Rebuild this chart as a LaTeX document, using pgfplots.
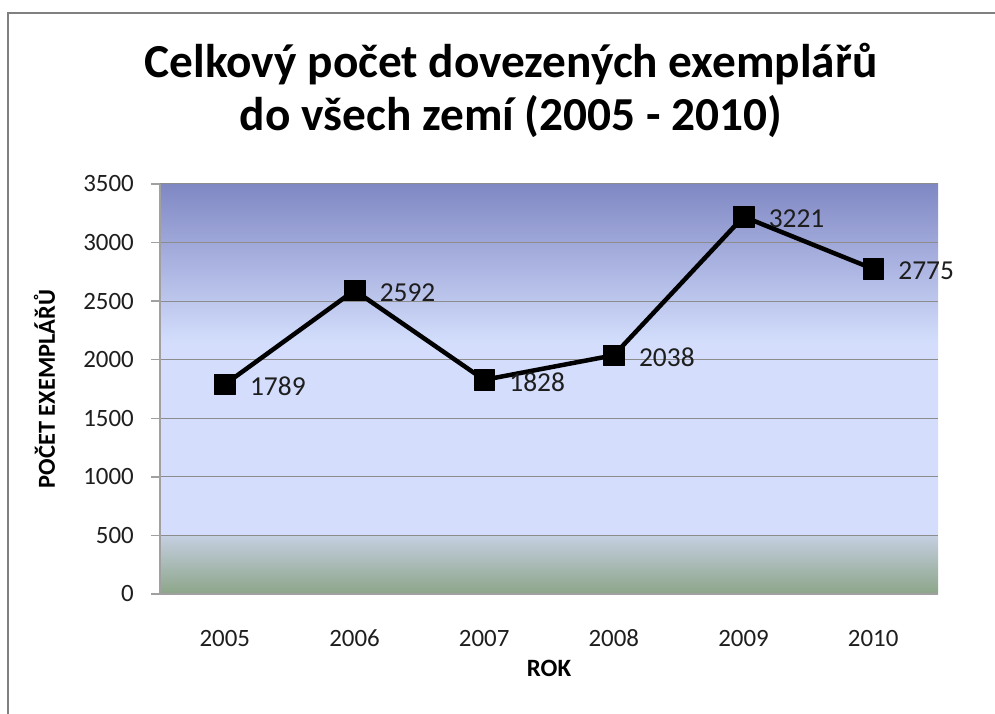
\documentclass[border=0pt]{standalone}
\usepackage{pgfplots}
\pgfplotsset{compat=1.18}
\usepackage{fontspec}
\setmainfont{Carlito}
\pgfdeclareverticalshading{plotbg}{100bp}{%
 rgb(0bp)=(0.549,0.647,0.533);
 rgb(25bp)=(0.549,0.647,0.533);
 rgb(32.1bp)=(0.77,0.81,0.88);
 rgb(32.2bp)=(0.831,0.871,0.988);
 rgb(55.5bp)=(0.831,0.871,0.988);
 rgb(75bp)=(0.502,0.533,0.769);
 rgb(100bp)=(0.502,0.533,0.769)}
\definecolor{gridgray}{RGB}{140,140,140}
\definecolor{axgray}{RGB}{160,160,160}
\definecolor{bordergray}{RGB}{128,128,128}
\definecolor{txt}{RGB}{30,30,30}
\pgfplotsset{/pgf/number format/1000 sep={}, /pgf/number format/assume math mode=true}
\begin{document}
\begin{tikzpicture}
\path[use as bounding box] (0,0) rectangle (995bp,714bp);
\draw[bordergray, line width=2bp] (7.5bp,-5bp) -- (7.5bp,701bp) -- (1000bp,701bp);
\node[anchor=base, inner sep=0pt, font=\fontsize{47.5}{55}\selectfont\bfseries] at (511bp,636bp) {Celkový počet dovezených exemplářů};
\node[anchor=base, inner sep=0pt, font=\fontsize{47.5}{55}\selectfont\bfseries] at (511bp,583bp) {do všech zemí (2005 - 2010)};
\begin{axis}[
  at={(160bp,120bp)}, anchor=south west,
  width=778bp, height=410bp, scale only axis,
  xmin=-0.5, xmax=5.5, ymin=0, ymax=3500,
  clip=false,
  axis background/.style={shade, shading=plotbg},
  xtick={0,1,2,3,4,5},
  xticklabels={2005,2006,2007,2008,2009,2010},
  ytick={0,500,...,3500},
  scaled y ticks=false,
  ymajorgrids,
  major grid style={gridgray, line width=1bp},
  axis x line*=bottom, axis y line*=left,
  axis line style={axgray, line width=1.5bp},
  tick align=outside,
  major tick length=9bp,
  y tick style={axgray, line width=1.5bp},
  x tick style={draw=none},
  ticklabel style={font=\fontsize{25}{30}\selectfont, text=txt},
  yticklabel style={anchor=east, inner sep=0pt, xshift=-17bp},
  xticklabel style={anchor=base, inner sep=0pt, yshift=-43bp},
  xlabel={ROK},
  xlabel style={at={(axis description cs:0.5,-0.2024)}, anchor=base, inner sep=0pt, font=\fontsize{25}{30}\selectfont\bfseries},
  ylabel={POČET EXEMPLÁŘŮ},
  ylabel style={at={(axis description cs:-0.135,0.5)}, anchor=base, rotate=0, inner sep=0pt, font=\fontsize{24.5}{29}\selectfont\bfseries},
  nodes near coords,
  nodes near coords style={anchor=west, inner sep=0pt, xshift=25bp, yshift=-2bp, font=\fontsize{27.5}{33}\selectfont, text=txt},
]
\addplot[black, line width=4.5bp, line join=round, mark=square*, mark size=10.25bp,
  mark options={fill=black, draw=black, line width=0.5bp}]
  coordinates {(0,1789) (1,2592) (2,1828) (3,2038) (4,3221) (5,2775)};
\end{axis}
\end{tikzpicture}
\end{document}
